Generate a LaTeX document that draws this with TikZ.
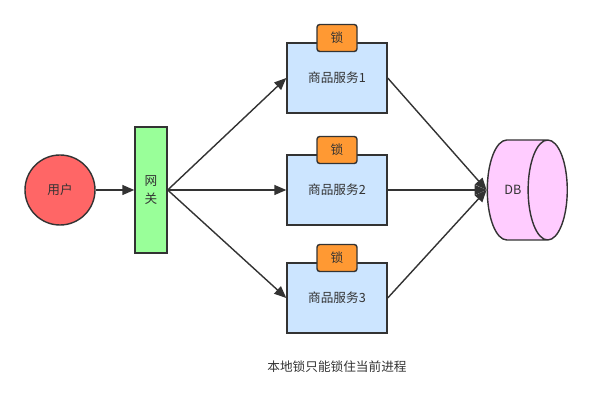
\documentclass[tikz,border=0pt]{standalone}
\usepackage{fontspec}
\usepackage{xcolor}
\newfontfamily\cjk{Noto Sans CJK SC}
\usetikzlibrary{shapes.geometric,arrows.meta}
\definecolor{linegray}{HTML}{333333}
\definecolor{userred}{HTML}{FF6666}
\definecolor{gategreen}{HTML}{99FF99}
\definecolor{svcblue}{HTML}{CCE5FF}
\definecolor{lockorange}{HTML}{FF9933}
\definecolor{dbpink}{HTML}{FFCCFF}
\tikzstyle{user} = [circle, minimum size=1.75cm, draw=linegray, line width=1pt, fill=userred, text=linegray, font=\cjk\small]
\tikzstyle{gateway} = [rectangle, minimum width=0.8cm, minimum height=3.15cm, draw=linegray, line width=1pt, fill=gategreen, text=linegray, font=\cjk\small, align=center]
\tikzstyle{service} = [rectangle, minimum width=2.5cm, minimum height=1.75cm, draw=linegray, line width=1pt, fill=svcblue, text=linegray, font=\cjk\small]
\tikzstyle{lockbox} = [rectangle, rounded corners=2pt, minimum width=1cm, minimum height=0.675cm, draw=linegray, line width=1pt, fill=lockorange, text=linegray, font=\cjk\small]
\tikzstyle{db} = [cylinder, shape aspect=2.1, minimum width=2.5cm, minimum height=2.0cm, draw=linegray, line width=1pt, fill=dbpink, text=linegray, font=\cjk\small]
\tikzstyle{arrow} = [line width=1pt, draw=linegray, -{Triangle[length=0.3cm, width=0.25cm]}]

\begin{document}
\begin{tikzpicture}[node distance=2.8cm]
      \useasboundingbox (0,0) rectangle (14.8,-10.2);
      \node (user)[user] at (1.5,-4.75) {用户};
      \node (gate)[gateway, right of=user, xshift=-0.525cm] {网\\[2pt]关};
      \node (svc2)[service, right of=gate, xshift=1.85cm] {商品服务2};
      \node (svc1)[service, above of=svc2] {商品服务1};
      \node (svc3)[service, below of=svc2, yshift=0.1cm] {商品服务3};
      \node (lock1)[lockbox, above of=svc1, node distance=1cm] {锁};
      \node (lock2)[lockbox, above of=svc2, node distance=1cm] {锁};
      \node (lock3)[lockbox, above of=svc3, node distance=1cm] {锁};
      \node (db)[db, right of=svc2, xshift=1.6cm] {DB};
      \node (note)[below of=svc3, node distance=1.725cm, text=linegray, font=\cjk\small] {本地锁只能锁住当前进程};
      \draw [arrow](user)--(gate);
      \draw [arrow](gate.east)--(svc1.west);
      \draw [arrow](gate.east)--(svc2.west);
      \draw [arrow](gate.east)--(svc3.west);
      \draw [arrow](svc1.east)--(db.west);
      \draw [arrow](svc2.east)--(db.west);
      \draw [arrow](svc3.east)--(db.west);
    \end{tikzpicture}
\end{document}
